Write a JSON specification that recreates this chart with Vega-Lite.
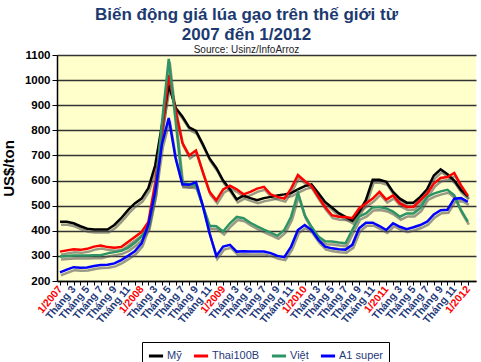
{
  "$schema": "https://vega.github.io/schema/vega-lite/v6.json",
  "width": 419,
  "height": 226,
  "autosize": {"type": "none"},
  "padding": {"left": 57, "top": 55, "right": 5, "bottom": 81},
  "background": "white",
  "config": {"view": {"fill": "#FFFFCC", "stroke": null}, "font": "Liberation Sans"},
  "title": {
    "text": ["Biến động giá lúa gạo trên thế giới từ", "2007 đến 1/2012"],
    "subtitle": "Source: Usinz/InfoArroz",
    "fontSize": 17,
    "fontWeight": "bold",
    "color": "#1C3A70",
    "lineHeight": 20,
    "subtitleFontSize": 10,
    "subtitleColor": "#222222",
    "subtitlePadding": 1,
    "offset": -7,
    "dx": -20,
    "anchor": "middle",
    "frame": "group"
  },
  "data": {
    "values": [
      {"month": 0, "my": 436, "thai": 317, "viet": 298, "a1": 234},
      {"month": 1, "my": 436, "thai": 322, "viet": 300, "a1": 245},
      {"month": 2, "my": 430, "thai": 326, "viet": 302, "a1": 255},
      {"month": 3, "my": 418, "thai": 324, "viet": 302, "a1": 253},
      {"month": 4, "my": 408, "thai": 328, "viet": 302, "a1": 254},
      {"month": 5, "my": 405, "thai": 337, "viet": 303, "a1": 260},
      {"month": 6, "my": 405, "thai": 341, "viet": 303, "a1": 264},
      {"month": 7, "my": 405, "thai": 335, "viet": 310, "a1": 265},
      {"month": 8, "my": 423, "thai": 332, "viet": 315, "a1": 270},
      {"month": 9, "my": 450, "thai": 335, "viet": 320, "a1": 283},
      {"month": 10, "my": 482, "thai": 355, "viet": 332, "a1": 300},
      {"month": 11, "my": 509, "thai": 375, "viet": 352, "a1": 318},
      {"month": 12, "my": 528, "thai": 395, "viet": 378, "a1": 350},
      {"month": 13, "my": 570, "thai": 435, "viet": 415, "a1": 425},
      {"month": 14, "my": 660, "thai": 590, "viet": 550, "a1": 555},
      {"month": 15, "my": 820, "thai": 800, "viet": 830, "a1": 746},
      {"month": 16, "my": 980, "thai": 1020, "viet": 1085, "a1": 849},
      {"month": 17, "my": 890, "thai": 880, "viet": 840, "a1": 690},
      {"month": 18, "my": 855, "thai": 750, "viet": 590, "a1": 585},
      {"month": 19, "my": 812, "thai": 700, "viet": 585, "a1": 583},
      {"month": 20, "my": 798, "thai": 720, "viet": 580, "a1": 594},
      {"month": 21, "my": 745, "thai": 635, "viet": 500, "a1": 500},
      {"month": 22, "my": 688, "thai": 555, "viet": 420, "a1": 390},
      {"month": 23, "my": 650, "thai": 521, "viet": 418, "a1": 300},
      {"month": 24, "my": 600, "thai": 565, "viet": 397, "a1": 337},
      {"month": 25, "my": 565, "thai": 580, "viet": 430, "a1": 344},
      {"month": 26, "my": 525, "thai": 565, "viet": 455, "a1": 317},
      {"month": 27, "my": 540, "thai": 545, "viet": 450, "a1": 318},
      {"month": 28, "my": 530, "thai": 555, "viet": 432, "a1": 317},
      {"month": 29, "my": 522, "thai": 568, "viet": 418, "a1": 317},
      {"month": 30, "my": 530, "thai": 575, "viet": 405, "a1": 317},
      {"month": 31, "my": 535, "thai": 545, "viet": 393, "a1": 311},
      {"month": 32, "my": 541, "thai": 535, "viet": 380, "a1": 300},
      {"month": 33, "my": 545, "thai": 528, "viet": 403, "a1": 295},
      {"month": 34, "my": 550, "thai": 568, "viet": 456, "a1": 337},
      {"month": 35, "my": 565, "thai": 622, "viet": 550, "a1": 403},
      {"month": 36, "my": 578, "thai": 598, "viet": 462, "a1": 423},
      {"month": 37, "my": 585, "thai": 578, "viet": 416, "a1": 403},
      {"month": 38, "my": 550, "thai": 535, "viet": 377, "a1": 364},
      {"month": 39, "my": 515, "thai": 495, "viet": 358, "a1": 337},
      {"month": 40, "my": 493, "thai": 462, "viet": 357, "a1": 330},
      {"month": 41, "my": 470, "thai": 456, "viet": 353, "a1": 326},
      {"month": 42, "my": 455, "thai": 455, "viet": 350, "a1": 325},
      {"month": 43, "my": 440, "thai": 450, "viet": 403, "a1": 344},
      {"month": 44, "my": 475, "thai": 489, "viet": 456, "a1": 410},
      {"month": 45, "my": 522, "thai": 509, "viet": 469, "a1": 432},
      {"month": 46, "my": 603, "thai": 528, "viet": 493, "a1": 432},
      {"month": 47, "my": 603, "thai": 555, "viet": 495, "a1": 419},
      {"month": 48, "my": 595, "thai": 524, "viet": 489, "a1": 403},
      {"month": 49, "my": 555, "thai": 541, "viet": 476, "a1": 430},
      {"month": 50, "my": 528, "thai": 509, "viet": 456, "a1": 416},
      {"month": 51, "my": 512, "thai": 495, "viet": 469, "a1": 406},
      {"month": 52, "my": 512, "thai": 495, "viet": 469, "a1": 414},
      {"month": 53, "my": 535, "thai": 522, "viet": 490, "a1": 423},
      {"month": 54, "my": 565, "thai": 548, "viet": 535, "a1": 436},
      {"month": 55, "my": 620, "thai": 588, "viet": 548, "a1": 465},
      {"month": 56, "my": 645, "thai": 610, "viet": 557, "a1": 482},
      {"month": 57, "my": 625, "thai": 614, "viet": 563, "a1": 484},
      {"month": 58, "my": 600, "thai": 630, "viet": 541, "a1": 528},
      {"month": 59, "my": 562, "thai": 581, "viet": 482, "a1": 530},
      {"month": 60, "my": 537, "thai": 540, "viet": 436, "a1": 515}
    ]
  },
  "transform": [{"fold": ["my", "thai", "viet", "a1"], "as": ["series", "price"]}],
  "encoding": {
    "x": {
      "field": "month",
      "type": "quantitative",
      "scale": {"domain": [-0.44, 61.2], "nice": false, "zero": false},
      "axis": {
        "title": null,
        "values": [0,1,2,3,4,5,6,7,8,9,10,11,12,13,14,15,16,17,18,19,20,21,22,23,24,25,26,27,28,29,30,31,32,33,34,35,36,37,38,39,40,41,42,43,44,45,46,47,48,49,50,51,52,53,54,55,56,57,58,59,60],
        "labelExpr": "datum.value % 2 == 0 ? (datum.value % 12 == 0 ? '1/' + (2007 + datum.value / 12) : 'Tháng ' + (datum.value % 12 + 1)) : ''",
        "labelAngle": -50,
        "labelFontSize": 10.5,
        "labelFontWeight": "bold",
        "labelColor": {"condition": {"test": "datum.value % 12 == 0", "value": "#FF0000"}, "value": "#1F3A7A"},
        "labelOverlap": false,
        "labelFlush": false,
        "labelBound": false,
        "labelPadding": 2,
        "tickColor": "black",
        "tickSize": 4,
        "domainColor": "black",
        "domainWidth": 1.5,
        "grid": false
      }
    },
    "y": {
      "field": "price",
      "type": "quantitative",
      "scale": {"domain": [200, 1100], "nice": false, "zero": false},
      "axis": {
        "title": "US$/ton",
        "titleFontSize": 15,
        "titleFontWeight": "bold",
        "titleColor": "black",
        "titlePadding": 8,
        "values": [200, 300, 400, 500, 600, 700, 800, 900, 1000, 1100],
        "format": "d",
        "labelFontSize": 11.5,
        "labelFontWeight": "bold",
        "labelColor": "black",
        "tickColor": "black",
        "tickSize": 5,
        "domainColor": "black",
        "domainWidth": 1.5,
        "gridColor": "#333333",
        "gridWidth": 1.5,
        "gridOpacity": 1
      }
    }
  },
  "layer": [
    {
      "mark": {"type": "line", "color": "#555555", "strokeWidth": 2.5, "opacity": 0.6, "yOffset": 3, "xOffset": 1},
      "encoding": {"detail": {"field": "series"}}
    },
    {
      "mark": {"type": "line", "strokeWidth": 2.5},
      "encoding": {
        "color": {
          "field": "series",
          "type": "nominal",
          "scale": {"domain": ["my", "thai", "viet", "a1"], "range": ["#000000", "#FF0000", "#2E9466", "#0000FF"]},
          "legend": {
            "title": null,
            "orient": "none",
            "legendX": 85,
            "legendY": 287,
            "direction": "horizontal",
            "labelExpr": "datum.value == 'my' ? 'Mỹ' : datum.value == 'thai' ? 'Thai100B' : datum.value == 'viet' ? 'Việt' : 'A1 super'",
            "symbolType": "stroke",
            "symbolStrokeWidth": 3,
            "symbolSize": 200,
            "strokeColor": "black",
            "fillColor": "white",
            "padding": 5,
            "labelFontSize": 11,
            "labelOffset": 2,
            "labelColor": "#1F3A7A",
            "columnPadding": 5
          }
        }
      }
    }
  ]
}
